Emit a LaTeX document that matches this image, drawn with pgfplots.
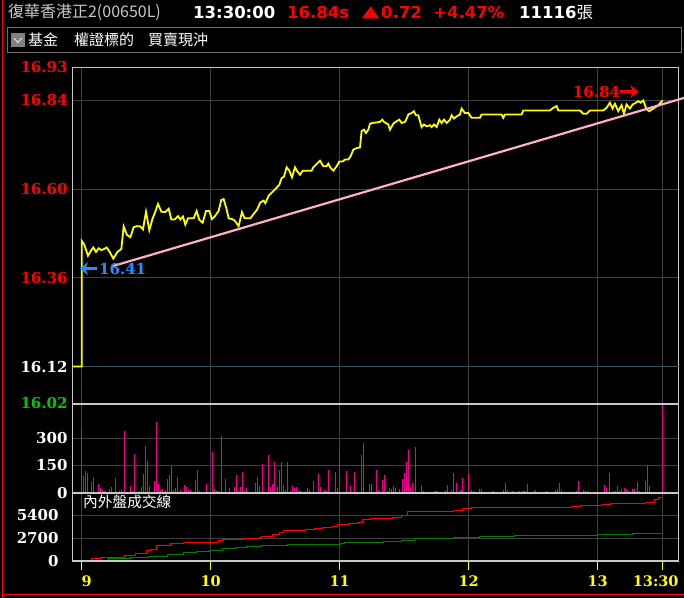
\documentclass[border=0pt]{standalone}
\usepackage{fontspec}
\usepackage{pgfplots}
\pgfplotsset{compat=1.18}
\usetikzlibrary{arrows.meta}
\setmainfont{DejaVu Serif}
\newfontfamily\hdr{DejaVu Sans}
\newfontfamily\cjk{Noto Sans CJK TC}

\definecolor{frameg}{RGB}{200,200,200}
\definecolor{gridg}{RGB}{64,64,64}
\definecolor{tealg}{RGB}{50,80,90}
\definecolor{upred}{RGB}{255,0,0}
\definecolor{upgreen}{RGB}{0,200,0}
\definecolor{annblue}{RGB}{30,144,255}
\definecolor{pinkline}{RGB}{255,176,200}
\definecolor{cumgreen}{RGB}{0,128,0}
\definecolor{titlegray}{RGB}{200,200,200}
\definecolor{boxgray}{RGB}{110,110,110}
\definecolor{xyellow}{RGB}{255,255,0}

\newcommand\lbl{\bfseries\fontsize{15bp}{15bp}\selectfont}
\newcommand\xlbl{\bfseries\fontsize{14.5bp}{14.5bp}\selectfont}
\newcommand\hfont{\hdr\bfseries\fontsize{16.5bp}{16.5bp}\selectfont}

% x is minutes after 9:00
\pgfplotsset{
  panel/.style={
    scale only axis, width=606.7bp,
    xmin=-4.51, xmax=277.7,
    xtick={0,60,120,180,240,270},
    grid=major,
    major grid style={draw=gridg, line width=1bp},
    axis line style={draw=frameg, line width=1bp},
    xtick style={draw=none}, ytick style={draw=none},
    yticklabel style={font=\lbl, text=white, inner sep=0pt, anchor=east, xshift=-4.3bp},
    xticklabels={},
    scaled y ticks=false,
    anchor=south west,
  },
}

\begin{document}
\begin{tikzpicture}
\fill[black] (0,0) rectangle (684bp,598bp);
\useasboundingbox (0,0) rectangle (684bp,598bp);
\begin{scope}[x=1bp,y=1bp]
% header
\node[anchor=base west, inner sep=0pt, text=titlegray] at (7.9,580) {\cjk\fontsize{16bp}{16bp}\selectfont 復華香港正2(00650L)};
\node[anchor=base west, inner sep=0pt, text=white] at (193,579.7) {\hfont 13:30:00};
\node[anchor=base west, inner sep=0pt, text=upred] at (287,579.7) {\hfont 16.84s};
\fill[upred] (362,579.7) -- (379,579.7) -- (370.5,591.5) -- cycle;
\node[anchor=base west, inner sep=0pt, text=upred] at (381,579.7) {\hfont 0.72};
\node[anchor=base west, inner sep=0pt, text=upred] at (433,579.7) {\hfont +4.47\%};
\node[anchor=base west, inner sep=0pt, text=white] at (519,579.7) {\hfont 11116{\cjk\mdseries 張}};

% toolbar
\draw[boxgray, line width=1bp] (7.4,570.3) rectangle (681,545.7);
\fill[gray] (10.9,565.3) rectangle (24.9,550.7);
\draw[white!80!gray, line width=1bp] (14,560) -- (17.9,555.5) -- (21.8,560);
\node[anchor=base west, inner sep=0pt, text=white] at (28,552.5) {\cjk\fontsize{15bp}{15bp}\selectfont 基金};
\node[anchor=base west, inner sep=0pt, text=white] at (74,552.5) {\cjk\fontsize{15bp}{15bp}\selectfont 權證標的};
\node[anchor=base west, inner sep=0pt, text=white] at (148,552.5) {\cjk\fontsize{15bp}{15bp}\selectfont 買賣現沖};
\end{scope}

% price panel
\begin{axis}[panel, name=price, at={(72bp,194.5bp)}, height=336.3bp,
  ymin=16.02, ymax=16.93, clip=false,
  ytick={16.02,16.36,16.60,16.84,16.93},
  yticklabels={\textcolor{upgreen}{16.02},\textcolor{upred}{16.36},\textcolor{upred}{16.60},\textcolor{upred}{16.84},\textcolor{upred}{16.93}},
  extra y ticks={16.12}, extra y tick labels={16.12},
  extra y tick style={major grid style={draw=tealg, line width=1bp}},
]
\addplot[xyellow, line width=1.8bp] coordinates {
(-4.51,16.12) (0,16.12) (0,16.46) (1.2,16.45) (2.93,16.42) (4.48,16.435) (5.41,16.442) (6.65,16.43) (7.89,16.44) (9.13,16.435) (10.37,16.438) (11.61,16.442) (12.85,16.432) (14.71,16.412) (16.57,16.43) (18.43,16.438) (19.52,16.499) (21.07,16.476) (22.62,16.47) (24.17,16.497) (25.72,16.5) (27.27,16.499) (28.51,16.491) (29.9,16.539) (31.46,16.489) (33.0,16.521) (34.25,16.539) (35.49,16.56) (37.04,16.539) (38.9,16.538) (40.45,16.547) (41.69,16.518) (43.24,16.518) (44.79,16.527) (45.87,16.518) (47.11,16.526) (48.2,16.504) (49.44,16.521) (52.07,16.521) (53.47,16.541) (54.71,16.517) (56.26,16.509) (57.81,16.541) (59.36,16.541) (60.6,16.519) (61.84,16.526) (63.7,16.541) (64.94,16.571) (66.03,16.573) (67.58,16.542) (68.35,16.521) (69.9,16.519) (71.14,16.515) (73.0,16.5) (74.55,16.538) (75.8,16.521) (78.43,16.521) (79.98,16.533) (81.53,16.544) (83.08,16.564) (84.63,16.569) (85.4,16.562) (86.96,16.582) (88.5,16.591)
(90.68,16.604) (91.92,16.612) (93.0,16.63) (94.09,16.634) (95.33,16.659) (96.57,16.65) (97.81,16.632) (99.21,16.659) (100.29,16.648) (101.53,16.639) (102.77,16.65) (106.96,16.65) (107.73,16.659) (109.28,16.668) (110.84,16.677) (112.39,16.662) (113.94,16.662) (114.71,16.669) (115.8,16.657) (117.04,16.65) (118.59,16.662) (119.83,16.675) (121.38,16.675) (122.46,16.68) (124.01,16.68) (125.1,16.689) (126.34,16.707) (127.89,16.711) (129.44,16.713) (130.21,16.757) (131.3,16.761) (132.23,16.752) (133.32,16.761) (134.09,16.777) (135.33,16.779) (138.74,16.782) (139.83,16.788) (140.6,16.782) (142.62,16.775) (143.39,16.761) (144.94,16.777) (146.49,16.784) (147.73,16.788) (148.82,16.779) (150.37,16.782) (151.14,16.791) (151.92,16.802) (153.47,16.806) (154.55,16.811) (155.48,16.8) (156.57,16.8) (157.34,16.784) (158.12,16.768) (159.2,16.775) (160.44,16.77) (162.0,16.773) (162.77,16.768) (163.86,16.775) (165.1,16.768) (166.34,16.788) (167.42,16.779) (168.51,16.788) (169.75,16.779) (171.3,16.788) (172.07,16.8) (173.16,16.791) (174.4,16.797) (175.95,16.802)
(176.72,16.818) (178.27,16.806) (179.82,16.806) (181.37,16.793) (185.24,16.793) (186.02,16.802) (195.32,16.802) (196.09,16.793) (196.87,16.802) (204.62,16.802) (205.4,16.813) (217.8,16.813) (219.35,16.82) (220.9,16.825) (221.67,16.813) (231.75,16.813) (233.3,16.804) (234.85,16.804) (236.4,16.813) (242.6,16.813) (244.15,16.82) (245.7,16.834) (246.94,16.818) (248.03,16.831) (249.58,16.811) (251.13,16.827) (252.22,16.804) (253.46,16.829) (255.01,16.818) (256.25,16.829) (257.8,16.834) (258.88,16.838) (259.97,16.834) (261.21,16.84) (262.76,16.816) (264.0,16.811) (265.86,16.818) (268.19,16.827) (270.2,16.84)
};
\addplot[pinkline, line width=2.2bp] coordinates {(14.6,16.392) (280.2,16.847)};
% annotations
\draw[annblue, line width=3.2bp, -{Stealth[length=8bp,width=13bp]}] (axis cs:7.2,16.385) -- (axis cs:-0.8,16.385);
\node[anchor=west, inner sep=0pt, text=annblue, font=\lbl] at (axis cs:8.05,16.385) {16.41};
\node[anchor=west, inner sep=0pt, text=upred, font=\lbl] at (axis cs:228.4,16.864) {16.84};
\draw[upred, line width=3.2bp, -{Stealth[length=8bp,width=13bp]}] (axis cs:250.3,16.864) -- (axis cs:258.9,16.864);
\end{axis}

% volume panel
\begin{axis}[panel, name=vol, at={(72bp,105.3bp)}, height=89.2bp,
  ymin=0, ymax=492, ytick={0,150,300}, yticklabels={0,150,300},
]
\addplot[ycomb, draw=magenta, line width=1.2bp] coordinates {
(0,355) (0.7,92) (1.7,120) (2.6,109) (4.5,59) (5.4,85) (7.7,48) (8.7,26) (9.6,15) (10.5,8) (12.8,20) (13.8,30) (15.6,79) (17.5,8) (18.4,15) (19.8,339) (22.6,37) (23.5,8) (24.5,213) (26.8,8) (27.7,30) (28.7,103) (29.6,258) (30.5,175) (31.4,37) (33.8,64) (34.7,390) (35.6,48) (36.6,15) (37.5,20) (38.9,15) (39.8,75) (40.7,98) (41.7,147) (42.6,15) (43.5,26) (44.5,86) (45.9,15) (47.7,42) (48.6,31) (49.6,15) (50.5,15) (52.8,70) (53.8,125) (54.7,8) (58.0,48)
(60.7,225) (61.7,20) (62.6,8) (63.5,8) (64.9,313) (66.8,75) (68.6,26) (71.0,31) (71.9,98) (72.8,8) (73.8,31) (74.7,114) (75.6,8) (76.6,26) (80.7,53) (81.7,86) (82.6,37) (84.0,158) (86.8,208) (87.7,31) (88.7,48) (89.6,169) (91.0,31) (91.9,125) (92.8,169) (93.8,42) (94.7,15) (95.6,169) (97.0,8) (98.0,37) (98.9,26) (99.8,31) (100.7,8) (101.7,8) (104.0,8) (104.9,26) (105.9,15) (107.7,64) (110.0,103) (111.0,31) (112.8,15) (113.8,8) (114.7,125) (117.9,114) (118.9,26) (119.8,236)
(123.1,120) (124.9,37) (126.8,114) (130.0,208) (131.0,274) (133.8,48) (134.7,48) (137.0,125) (138.0,15) (139.8,70) (140.7,98) (142.1,8) (143.1,26) (144.0,20) (144.9,37) (145.9,26) (147.7,20) (149.1,75) (150.0,109) (151.0,169) (151.9,236) (152.8,26) (153.8,53) (155.2,252) (158.0,42) (158.9,8) (164.0,8) (165.0,8) (169.1,15) (170.0,42) (171.9,15) (172.8,109) (174.2,53) (176.1,15) (177.0,81) (179.8,103)
(181.2,15) (182.1,8) (184.9,20) (185.9,20) (191.0,8) (196.1,15) (197.0,53) (197.9,15) (200.3,8) (203.1,8) (204.9,8) (205.9,8) (207.2,48) (210.0,8) (211.0,15) (216.1,8) (220.3,15) (221.2,20) (222.1,53) (223.1,15) (230.0,8) (231.0,64) (233.3,15) (234.2,8) (235.2,8)
(243.1,42) (244.0,26) (245.4,109) (247.3,8) (248.2,8) (249.1,37) (250.1,8) (251.0,20) (252.4,26) (253.3,20) (254.2,8) (256.1,20) (257.0,20) (258.4,59) (259.4,8) (262.2,64) (263.1,147) (264.0,37) (270.0,700)
};
\end{axis}

% inner/outer cumulative volume panel
\begin{axis}[panel, name=cum, at={(72bp,37.3bp)}, height=68bp,
  ymin=0, ymax=8100, ytick={0,2700,5400}, yticklabels={0,2700,5400},
  xtick style={draw=xyellow, line width=1bp}, major tick length=9bp,
  tick align=outside, xtick pos=bottom,
  xticklabels={\makebox[0pt][l]{9},10,11,12,13,\makebox[0pt][r]{13:30\hspace*{-16.4bp}}},
  xticklabel style={font=\xlbl, text=xyellow, inner sep=0pt, yshift=-6bp},
]
\addplot[const plot, draw=upred, line width=1bp] coordinates {
(-4.51,0) (0,83) (4.6,280) (8.7,398) (14.8,398) (19.8,674) (24.9,871) (29.0,871) (30.0,1265) (32.0,1344) (35.0,1856) (41.1,2053) (47.2,2132) (59.4,2171) (63.5,2447) (65.5,2526) (75.6,2644) (82.7,2723) (83.7,2841) (88.8,3156) (91.9,3314) (93.9,3550) (104.0,3708) (108.1,3826) (112.1,3944) (116.2,4102) (119.2,4260) (124.3,4417) (128.4,4535) (130.4,4890) (134.5,5047) (144.6,5205) (148.7,5441) (151.7,5914) (173.0,5993) (177.1,6190) (181.1,6308) (195.3,6387) (227.8,6505) (231.9,6584) (242.0,6702) (246.1,6781) (258.2,6860) (262.3,6978) (266.3,7254) (268.4,7490) (269.3,7560)
};
\addplot[const plot, draw=cumgreen, line width=1bp] coordinates {
(-4.51,0) (0,83) (12.7,241) (22.9,398) (31.0,556) (40.1,792) (47.2,950) (53.3,1068) (59.4,1265) (65.5,1422) (71.6,1580) (76.6,1738) (83.7,1856) (95.9,1974) (120.3,2053) (122.3,2171) (140.6,2289) (148.7,2368) (154.8,2683) (173.0,2762) (185.2,2841) (201.4,2959) (240.0,3077) (256.2,3196) (269.3,3196)
};
\end{axis}

\begin{scope}[x=1bp,y=1bp]
% panel separators and caption
\draw[frameg, line width=2bp] (72,193.9) -- (678.7,193.9);
\draw[frameg, line width=2bp] (72,105.2) -- (678.7,105.2);
\draw[frameg, line width=2bp] (72,37) -- (678.7,37);
\node[anchor=base west, inner sep=0pt, text=white] at (83,90.5) {\cjk\fontsize{14.7bp}{14.7bp}\selectfont 內外盤成交線};

% window border
\draw[upred, line width=1bp] (2.5,0) -- (2.5,598);
\draw[upred, line width=1bp] (2,3.5) -- (684,3.5);
\end{scope}
\end{tikzpicture}
\end{document}
